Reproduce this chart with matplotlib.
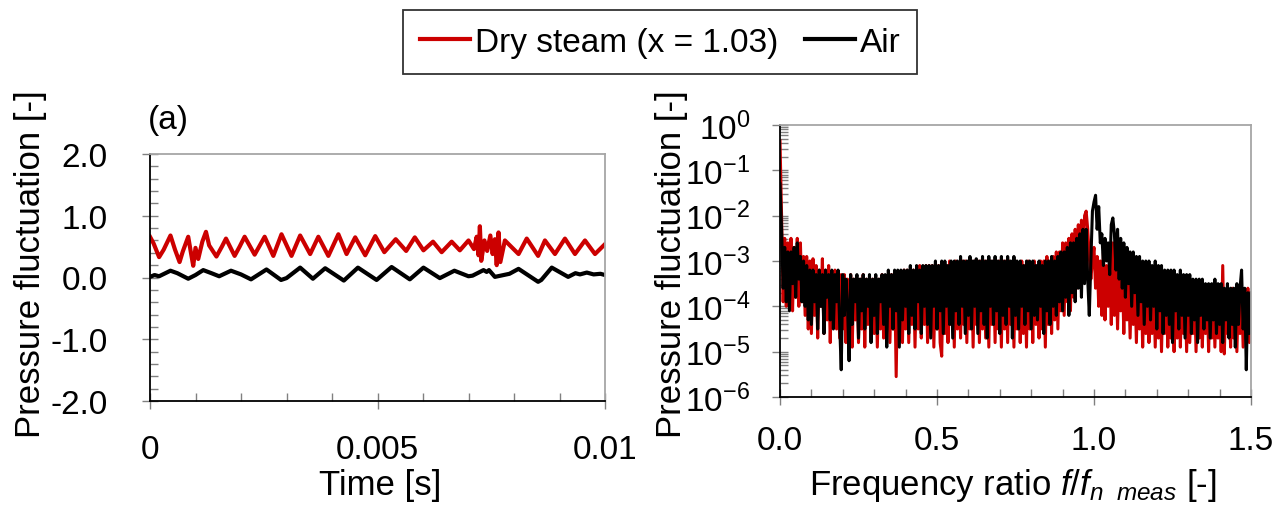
import numpy as np
import matplotlib
matplotlib.use('Agg')
from matplotlib import pyplot as plt
from matplotlib.ticker import MultipleLocator, LogLocator, FixedLocator, FuncFormatter, NullFormatter

plt.rcParams['font.family'] = ['Liberation Sans', 'DejaVu Sans']
plt.rcParams['mathtext.fontset'] = 'custom'
plt.rcParams['mathtext.rm'] = 'Liberation Sans'
plt.rcParams['mathtext.it'] = 'Liberation Sans:italic'
plt.rcParams['axes.unicode_minus'] = False

RED = '#cc0000'

# (a) pressure fluctuation vs time, read at peaks / troughs
steam_t = [0.00000, 0.00008, 0.00020, 0.00030, 0.00045, 0.00055, 0.00065, 0.00072, 0.00084, 0.00090,
           0.00095, 0.00100, 0.00106, 0.00115, 0.00123, 0.00130, 0.00146, 0.00158, 0.00167, 0.00186,
           0.00197, 0.00208, 0.00230, 0.00252, 0.00271, 0.00289, 0.00311, 0.00330, 0.00352, 0.00370,
           0.00392, 0.00414, 0.00432, 0.00451, 0.00473, 0.00495, 0.00515, 0.00540, 0.00563, 0.00582,
           0.00601, 0.00622, 0.00641, 0.00663, 0.00681, 0.00700, 0.00712, 0.00718, 0.00722, 0.00725,
           0.00728, 0.00735, 0.00741, 0.00748, 0.00753, 0.00758, 0.00762, 0.00766, 0.00770, 0.00780,
           0.00810, 0.00828, 0.00853, 0.00868, 0.00890, 0.00912, 0.00934, 0.00956, 0.00978, 0.01000]
steam_p = [0.66, 0.55, 0.33, 0.45, 0.68, 0.45, 0.25, 0.42, 0.66, 0.40,
           0.19, 0.48, 0.30, 0.58, 0.74, 0.52, 0.34, 0.50, 0.63, 0.35,
           0.50, 0.66, 0.37, 0.66, 0.35, 0.70, 0.35, 0.68, 0.38, 0.66,
           0.35, 0.70, 0.38, 0.65, 0.36, 0.67, 0.41, 0.62, 0.43, 0.65,
           0.44, 0.58, 0.41, 0.58, 0.44, 0.60, 0.46, 0.66, 0.36, 0.83,
           0.27, 0.60, 0.43, 0.68, 0.38, 0.62, 0.20, 0.73, 0.25, 0.60,
           0.38, 0.63, 0.35, 0.60, 0.38, 0.63, 0.38, 0.60, 0.38, 0.54]

air_t = [0.00000, 0.00010, 0.00020, 0.00045, 0.00060, 0.00084, 0.00100, 0.00117, 0.00135, 0.00152,
         0.00178, 0.00200, 0.00222, 0.00256, 0.00288, 0.00300, 0.00330, 0.00358, 0.00385, 0.00426,
         0.00457, 0.00498, 0.00531, 0.00571, 0.00601, 0.00637, 0.00669, 0.00700, 0.00709, 0.00733,
         0.00740, 0.00745, 0.00758, 0.00790, 0.00810, 0.00853, 0.00860, 0.00883, 0.00919, 0.00935,
         0.00945, 0.00960, 0.00975, 0.00990, 0.01000]
air_p = [0.01, 0.04, 0.02, 0.11, 0.07, -0.02, 0.04, 0.12, 0.07, 0.02,
         0.11, 0.05, -0.03, 0.13, -0.04, -0.01, 0.16, -0.02, 0.15, -0.05,
         0.16, -0.04, 0.17, -0.03, 0.16, -0.01, 0.11, 0.02, 0.03, 0.12,
         0.09, 0.12, 0.01, 0.06, 0.14, -0.07, -0.04, 0.16, 0.01, 0.07,
         0.05, 0.08, 0.05, 0.06, 0.04]

# (b) spectrum, log10 of amplitude read every 0.005 in f/fn
freq_step = 0.005
steam_log = [
    -0.35, -2.0, -3.9, -2.5, -4.0, -2.6, -3.7, -2.5, -4.1, -2.7, -3.8, -2.5, -4.0, -2.6, -3.9, -2.9, -4.2, -2.9, -4.5, -3.0,
    -4.6, -2.95, -4.2, -3.1, -4.7, -3.2, -4.0, -2.95, -4.6, -3.2, -4.3, -3.1, -4.8, -3.3, -4.4, -3.2, -4.5, -3.3, -4.7, -3.3,
    -4.5, -3.3, -4.8, -3.4, -4.4, -3.3, -4.9, -3.4, -4.3, -3.4, -4.8, -3.4, -4.5, -3.3, -4.9, -3.4, -4.4, -3.4, -4.7, -3.4,
    -4.6, -3.4, -4.9, -3.4, -4.5, -3.3, -4.7, -3.4, -4.4, -3.3, -4.8, -3.3, -4.5, -3.3, -5.55, -3.3, -4.6, -3.3, -4.8, -3.2,
    -4.5, -3.2, -4.8, -3.2, -4.4, -3.2, -4.9, -3.2, -4.5, -3.1, -4.7, -3.2, -4.4, -3.1, -4.8, -3.1, -4.5, -3.1, -4.9, -3.1,
    -4.5, -3.1, -4.8, -5.1, -3.1, -4.6, -3.1, -4.8, -3.0, -4.4, -3.1, -4.9, -3.0, -4.5, -3.1, -4.7, -3.0, -4.4, -3.0, -4.8,
    -3.0, -4.5, -3.0, -4.9, -3.0, -4.4, -3.0, -4.8, -3.0, -4.5, -3.0, -4.7, -3.0, -4.9, -3.0, -4.4, -3.0, -4.8, -3.0, -4.5,
    -3.0, -4.9, -3.0, -4.5, -3.0, -4.8, -3.0, -4.4, -3.1, -4.9, -3.0, -4.5, -3.1, -4.8, -3.0, -4.6, -3.1, -4.9, -3.0, -4.5,
    -3.1, -4.8, -3.0, -4.4, -3.1, -4.7, -3.0, -4.5, -3.0, -4.9, -2.9, -4.4, -3.0, -4.6, -2.9, -4.3, -2.8, -4.5, -2.8, -4.1,
    -2.6, -4.2, -2.6, -3.9, -2.5, -4.1, -2.4, -3.8, -2.3, -3.6, -2.2, -3.4, -2.1, -3.2, -2.0, -1.9, -2.3, -2.9, -3.4, -3.0,
    -2.7, -3.6, -2.9, -4.0, -3.0, -4.2, -2.8, -4.3, -3.1, -4.0, -2.9, -4.4, -2.6, -4.2, -3.0, -4.5, -3.1, -4.1, -3.2, -4.6,
    -3.1, -4.3, -3.3, -4.7, -3.3, -4.4, -3.4, -4.8, -3.4, -4.5, -3.4, -4.9, -3.5, -4.6, -3.4, -4.8, -3.5, -4.6, -3.5, -4.9,
    -3.5, -4.7, -3.5, -5.0, -3.5, -4.6, -3.5, -4.9, -3.6, -4.7, -3.5, -5.0, -3.6, -4.7, -3.5, -4.9, -3.6, -4.6, -3.6, -5.0,
    -3.6, -4.8, -3.6, -4.6, -3.6, -5.0, -3.6, -4.7, -3.6, -4.9, -3.7, -4.6, -3.6, -5.0, -3.7, -4.7, -3.6, -4.9, -3.6, -4.7,
    -3.6, -5.0, -3.1, -5.05, -3.7, -4.6, -3.7, -4.9, -3.6, -4.7, -3.7, -5.0, -3.7, -4.6, -3.7, -4.9, -3.7, -4.7, -3.6, -4.8, -3.9]
air_log = [
    -1.3, -2.3, -3.6, -2.7, -3.9, -2.8, -4.1, -2.8, -3.5, -2.7, -3.8, -2.6, -3.4, -2.9, -3.9, -3.0, -4.0, -3.1, -4.3, -3.2,
    -4.4, -3.2, -3.9, -3.3, -4.5, -3.2, -4.0, -3.3, -4.6, -3.2, -3.8, -3.3, -4.3, -3.2, -4.5, -3.3, -3.9, -3.2, -4.4, -5.4,
    -3.3, -4.2, -3.4, -4.0, -5.2, -3.3, -4.4, -3.4, -3.9, -3.3, -4.7, -3.4, -4.1, -3.3, -4.5, -3.4, -4.0, -3.3, -4.8, -3.4,
    -4.2, -3.3, -4.6, -3.4, -3.9, -3.3, -4.4, -3.3, -4.9, -3.2, -4.0, -3.3, -4.5, -3.2, -4.1, -3.2, -4.9, -3.2, -4.3, -3.2,
    -4.0, -3.2, -4.6, -3.1, -4.2, -3.2, -4.5, -3.1, -3.9, -3.2, -4.6, -3.1, -4.0, -3.1, -4.4, -3.1, -4.7, -3.1, -4.0, -3.0,
    -4.5, -3.1, -4.1, -3.0, -4.6, -3.0, -4.0, -3.1, -4.4, -3.0, -4.7, -3.0, -4.1, -3.0, -4.4, -2.9, -4.0, -3.0, -4.6, -3.0,
    -4.2, -2.9, -4.5, -3.0, -4.0, -2.95, -4.6, -3.0, -4.1, -2.9, -4.4, -3.0, -4.7, -2.9, -4.0, -3.0, -4.4, -2.9, -4.1, -3.0,
    -4.6, -2.9, -4.2, -3.0, -4.4, -2.9, -4.0, -3.0, -4.7, -2.9, -4.2, -3.0, -4.5, -3.0, -4.0, -3.1, -4.4, -3.0, -4.1, -3.0,
    -4.5, -3.0, -4.2, -3.1, -4.3, -3.0, -4.0, -3.1, -4.6, -3.0, -4.1, -3.0, -4.4, -2.9, -4.0, -3.0, -4.2, -2.9, -3.9, -2.8,
    -4.1, -2.8, -3.8, -2.7, -4.2, -2.6, -3.7, -2.6, -3.9, -2.5, -3.6, -2.4, -3.8, -2.3, -3.5, -2.3, -3.4, -4.2, -3.0, -1.9,
    -1.7, -1.55, -2.3, -1.8, -2.6, -2.4, -3.1, -2.5, -3.0, -2.6, -3.3, -2.2, -2.05, -2.4, -3.2, -2.3, -3.4, -2.5, -3.6, -2.6,
    -3.8, -2.7, -3.5, -2.8, -4.0, -2.8, -3.7, -2.9, -4.2, -2.9, -3.9, -3.0, -4.4, -3.0, -4.0, -3.0, -4.3, -3.1, -4.0, -3.0,
    -4.5, -3.1, -4.1, -3.1, -4.6, -3.2, -4.2, -3.2, -4.4, -3.2, -4.8, -3.2, -4.1, -3.3, -4.5, -3.2, -4.2, -3.3, -4.7, -3.3,
    -4.2, -3.3, -4.6, -3.4, -4.3, -3.4, -4.8, -3.4, -4.2, -3.4, -4.5, -3.5, -4.3, -3.5, -4.7, -3.5, -4.3, -3.4, -4.6, -3.5,
    -4.4, -3.5, -4.8, -3.6, -4.3, -3.5, -4.7, -3.6, -4.4, -3.6, -4.9, -3.5, -4.4, -3.6, -3.2, -4.5, -3.6, -5.4, -3.7, -4.6, -3.7]

W, H = 1274, 506
FS = 24
LABEL_FS = 25


def px_axes(fig, left, top, right, bottom):
    return fig.add_axes([left / W, 1 - bottom / H, (right - left) / W, (bottom - top) / H])


def style_axes(ax):
    for side in ('top', 'right'):
        ax.spines[side].set_color('#a6a6a6')
    for side in ('left', 'bottom'):
        ax.spines[side].set_color('black')
    for sp in ax.spines.values():
        sp.set_linewidth(1.3)
    ax.tick_params(which='major', direction='inout', length=11, width=1, color='#808080', labelsize=FS)
    ax.tick_params(which='minor', direction='in', length=5.5, width=1, color='#808080')


fig = plt.figure(figsize=(W / 100, H / 100), dpi=100)

# ---- (a) time series
ax1 = px_axes(fig, 150, 155, 605, 402)
l_steam, = ax1.plot(steam_t, steam_p, color=RED, lw=3, label='Dry steam (x = 1.03)')
l_air, = ax1.plot(air_t, air_p, color='black', lw=3, label='Air')
ax1.set_xlim(0, 0.01)
ax1.set_ylim(-2, 2)
ax1.xaxis.set_major_locator(FixedLocator([0, 0.005, 0.01]))
ax1.set_xticklabels(['0', '0.005', '0.01'])
ax1.xaxis.set_minor_locator(MultipleLocator(0.001))
ax1.yaxis.set_major_locator(MultipleLocator(1.0))
ax1.yaxis.set_major_formatter(FuncFormatter(lambda v, p: '%.1f' % v))
ax1.yaxis.set_minor_locator(MultipleLocator(0.2))
style_axes(ax1)
ax1.tick_params(axis='y', which='major', pad=25)
ax1.tick_params(axis='x', which='major', pad=18)

# ---- (b) spectrum
freq = np.arange(len(air_log)) * freq_step
ax2 = px_axes(fig, 780, 126, 1251, 398)
ax2.plot(freq, 10 ** np.array(steam_log), color=RED, lw=2.2)
ax2.plot(freq, 10 ** np.array(air_log), color='black', lw=2.2)
ax2.set_yscale('log')
ax2.set_xlim(0, 1.5)
ax2.set_ylim(1e-6, 1)
ax2.xaxis.set_major_locator(MultipleLocator(0.5))
ax2.xaxis.set_major_formatter(FuncFormatter(lambda v, p: '%.1f' % v))
ax2.xaxis.set_minor_locator(MultipleLocator(0.1))
ax2.yaxis.set_major_locator(LogLocator(base=10, numticks=10))
ax2.yaxis.set_minor_locator(LogLocator(base=10, subs=np.arange(2, 10), numticks=10))
ax2.yaxis.set_major_formatter(FuncFormatter(lambda v, p: r'$10^{%d}$' % round(np.log10(v))))
ax2.yaxis.set_minor_formatter(NullFormatter())
style_axes(ax2)
ax2.tick_params(axis='y', which='major', pad=16)
ax2.tick_params(axis='x', which='major', pad=15)

# labels
fig.text(31 / W, 1 - 264 / H, 'Pressure fluctuation [-]', rotation=90, ha='center', va='center', fontsize=LABEL_FS)
fig.text(672 / W, 1 - 264 / H, 'Pressure fluctuation [-]', rotation=90, ha='center', va='center', fontsize=LABEL_FS)
fig.text(380 / W, 1 - 486 / H, 'Time [s]', ha='center', va='center', fontsize=LABEL_FS)
fig.text(1013 / W, 1 - 486 / H, r'Frequency ratio $f/f_{n\ \ meas}$ [-]', ha='center', va='center', fontsize=LABEL_FS)
fig.text(148 / W, 1 - 121 / H, '(a)', ha='left', va='center', fontsize=FS)

leg = fig.legend(handles=[l_steam, l_air], loc='upper center', bbox_to_anchor=(660 / W, 1 - 11 / H),
                 ncol=2, fontsize=FS, frameon=True, fancybox=False, edgecolor='black', borderaxespad=0,
                 handlelength=1.5, handletextpad=0.15, columnspacing=0.8, borderpad=0.5)
leg.get_frame().set_linewidth(1.3)
for h in leg.legend_handles:
    h.set_linewidth(3)

fig.savefig('out.png', dpi=100)
